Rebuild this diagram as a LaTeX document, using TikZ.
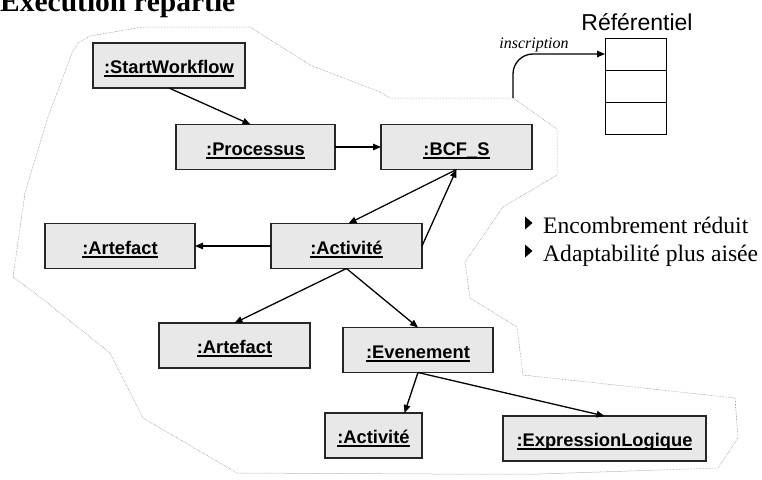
\documentclass[tikz,border=0pt]{standalone}
\usepackage{fontspec}
\setmainfont{Liberation Serif}
\setsansfont{Liberation Sans}
\usetikzlibrary{
    arrows.meta,
    positioning,
    calc
}
\newcommand\souligne[1]{\setbox0\hbox{#1}\rlap{\rule[-3.5pt]{\wd0}{1.7pt}}\box0}

\begin{document}
\begin{tikzpicture}[x=1pt, y=-1pt,
    obj/.style={draw=black!85, line width=1.1pt, fill=black!9, inner sep=0pt, outer sep=0pt,
        minimum height=45pt, text height=16pt, text depth=0pt,
        font=\fontsize{18.3}{20}\selectfont\sffamily\bfseries},
    casier/.style={draw, line width=1pt, fill=white, minimum width=61pt, minimum height=32pt,
        inner sep=0pt, outer sep=0pt},
    lien/.style={line width=1.3pt, -{Triangle[length=8pt,width=6.5pt]}},
    puce/.style={font=\fontsize{23.6}{28}\selectfont, anchor=base west, inner sep=0pt}]
                        \useasboundingbox (0,0) rectangle (762,479);
                        \node[font=\fontsize{29.5}{32}\selectfont\bfseries, anchor=base west, inner sep=0pt] (titre) at (0,12) {Exécution répartie};
                        % zone de l'execution
                        \coordinate (bord) at (513,98);
                        \draw[black!45, line width=0.5pt, dash pattern=on 0.6pt off 0.9pt]
                        (13,277) -- (25,193) -- (48,117) -- (72,53) -- (78,43) -- (90,36) -- (143,27)
                        -- (250,27) -- (310,65) -- (380,92) -- (390,98) -- (bord) -- (557,129) -- (557,175)
                        -- (503,207) -- (465,262) -- (470,298) -- (517,327) -- (523,375) -- (735,398)
                        -- (738,438) -- (718,468) -- (540,474) -- (433,474) -- (237,473) -- (143,418)
                        -- (110,353) -- (40,297) -- cycle;
                        % objets
                        \node[obj, minimum width=152pt] (start) at (169,65.5) {\souligne{:StartWorkflow}};
                        \node[obj, minimum width=159pt] (proc) at (255.5,147) {\souligne{:Processus}};
                        \node[obj, minimum width=151pt] (bcf) at (456.5,147) {\souligne{:BCF\_S}};
                        \node[obj, minimum width=151pt] (act) at (346.5,246) {\souligne{:Activité}};
                        \node[obj, minimum width=150pt] (artA) at (120,246) {\souligne{:Artefact}};
                        \node[obj, minimum width=151pt] (artB) at (234.5,345.5) {\souligne{:Artefact}};
                        \node[obj, minimum width=150pt] (even) at (418,350) {\souligne{:Evenement}};
                        \node[obj, minimum width=97pt] (actB) at (373.5,435.5) {\souligne{:Activité}};
                        \node[obj, minimum width=203pt] (expr) at (604.5,438.5) {\souligne{:ExpressionLogique}};
                        \draw[lien] (start.south) -- ([xshift=-5pt]proc.north);
                        \draw[lien] (proc.east) -- (bcf.west);
                        \draw[lien] (bcf.south) -- ([xshift=2pt]act.north);
                        \draw[lien] (act.east) -- (bcf.south);
                        \draw[lien] (act.west) -- (artA.east);
                        \draw[lien] (act.south) -- (artB.north);
                        \draw[lien] (act.south) -- (even.north);
                        \draw[lien] (even.south) -- ([xshift=31pt]actB.north);
                        \draw[lien] (even.south) -- (expr.north);
                        % referentiel
                        \node[font=\fontsize{23}{25}\selectfont\sffamily, anchor=base, inner sep=0pt] (reftitre) at (637,30) {Référentiel};
                        \node[casier] (ref1) at (635.5,54) {};
                        \node[casier, below=0pt of ref1] (ref2) {};
                        \node[casier, below=0pt of ref2] (ref3) {};
                        \node[font=\fontsize{16}{18}\selectfont\itshape, anchor=base, inner sep=0pt] (inscr) at (534,48) {inscription};
                        \draw[lien, rounded corners=20pt] (bord) |- (ref1.west);
                        % avantages
                        \node[puce] (encombre) at (543,233) {Encombrement réduit};
                        \node[puce] (adapt) at (543,261) {Adaptabilité plus aisée};
                        \fill ($(encombre.base west)+(-18,-16.5)$) -- ++(0,13) -- ++(7.5,-6.5) -- cycle;
                        \fill ($(adapt.base west)+(-18,-16.5)$) -- ++(0,13) -- ++(7.5,-6.5) -- cycle;
                    \end{tikzpicture}
\end{document}
